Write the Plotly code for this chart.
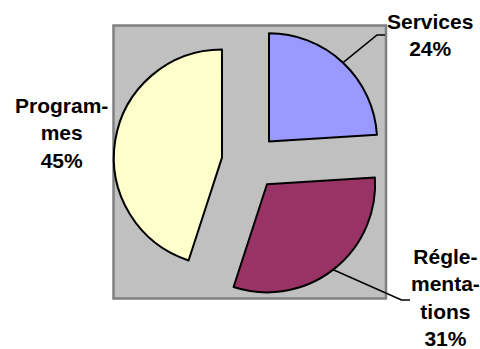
import math
import plotly.graph_objects as go

W, H = 480, 349

# Data
categories = ["Services", "Réglementations", "Programmes"]
shares = [24, 31, 45]
label_text = ["Services", "Régle-<br>menta-<br>tions", "Program-<br>mes"]
colors = ["#9999FF", "#993366", "#FFFFCC"]
explode = 0.26

# Plot-area frame (pixels)
bx0, bx1, by0, by1 = 113.5, 386.0, 25.5, 298.5


def fx(x):
    return x / W


def fy(y):
    return 1 - y / H


fig = go.Figure(
    go.Pie(
        labels=categories,
        values=shares,
        sort=False,
        direction="clockwise",
        rotation=0,
        pull=[explode] * len(shares),
        marker=dict(colors=colors, line=dict(color="black", width=2)),
        textinfo="none",
        hoverinfo="label+percent",
        showlegend=False,
        domain=dict(x=[fx(bx0), fx(bx1)], y=[fy(by1), fy(by0)]),
    )
)

# Pie geometry, for leader lines
cx, cy = (bx0 + bx1) / 2, (by0 + by1) / 2
r = min(bx1 - bx0, by1 - by0) / (2 + 2 * explode)
total = sum(shares)


def edge_point(i):
    start = sum(shares[:i]) / total
    mid = (start + shares[i] / total / 2) * 2 * math.pi
    dx, dy = math.sin(mid), -math.cos(mid)
    ax, ay = cx + explode * r * dx, cy + explode * r * dy
    return ax + r * dx, ay + r * dy


shapes = [
    dict(type="rect", xref="paper", yref="paper",
         x0=fx(bx0), x1=fx(bx1), y0=fy(by1), y1=fy(by0),
         fillcolor="#C0C0C0", line=dict(color="#808080", width=2.5), layer="below"),
]

# leader lines: slice edge -> elbow -> short horizontal tail
leaders = {0: ((377, 35), (385, 35)), 1: ((401.5, 300), (410, 300))}
for i, (elbow, tail) in leaders.items():
    sx, sy = edge_point(i)
    path = f"M {fx(sx)} {fy(sy)} L {fx(elbow[0])} {fy(elbow[1])} L {fx(tail[0])} {fy(tail[1])}"
    shapes.append(dict(type="path", xref="paper", yref="paper", path=path,
                       line=dict(color="black", width=1.6)))

label_pos = [(430, 35), (445, 297), (61, 133)]
annotations = []
for txt, v, (x, y) in zip(label_text, shares, label_pos):
    annotations.append(dict(
        x=fx(x), y=fy(y), xref="paper", yref="paper",
        text=f"{txt}<br>{v}%", showarrow=False,
        xanchor="center", yanchor="middle", align="center",
        font=dict(family="Liberation Sans, Arial, sans-serif", size=21,
                  color="black", weight="bold"),
    ))

fig.update_layout(
    width=W, height=H,
    margin=dict(l=0, r=0, t=0, b=0),
    paper_bgcolor="white", plot_bgcolor="white",
    shapes=shapes, annotations=annotations,
)

fig.write_html("out.html")
